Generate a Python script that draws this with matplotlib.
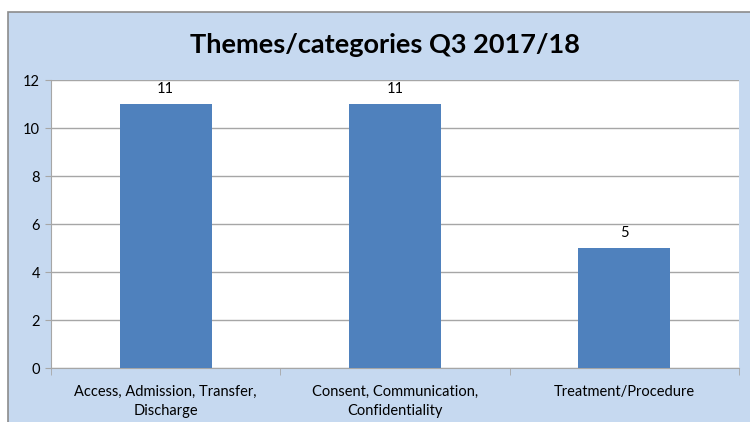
import matplotlib.pyplot as plt
from matplotlib.patches import Rectangle

categories = ['Access, Admission, Transfer,\nDischarge',
              'Consent, Communication,\nConfidentiality',
              'Treatment/Procedure']
values = [11, 11, 5]
y_ticks = [0, 2, 4, 6, 8, 10, 12]

bg = '#C6D9F0'
bar_color = '#4F81BD'
grid_color = '#A6A6A6'

plt.rcParams['font.family'] = ['Lato', 'DejaVu Sans']

fig = plt.figure(figsize=(7.5, 4.22), dpi=100)
fig.patch.set_facecolor('white')
# chart area background with grey border
fig.patches.append(Rectangle((8 / 750, -0.05), 1.0, 1 - 12 / 422 + 0.05,
                             transform=fig.transFigure, facecolor=bg,
                             edgecolor='#8C8C8C', linewidth=1.2, zorder=-10))

ax = fig.add_axes([51 / 750, 1 - 368 / 422, (739 - 51) / 750, (368 - 80) / 422])
ax.set_zorder(1)
ax.set_facecolor('white')

x = list(range(len(categories)))
bars = ax.bar(x, values, width=0.4, color=bar_color, zorder=3)
for xi, v in zip(x, values):
    ax.text(xi, v + 0.35, str(v), ha='center', va='bottom', fontsize=10.5, color='black')

ax.set_xlim(-0.5, len(categories) - 0.5)
ax.set_ylim(0, 12)
ax.set_yticks(y_ticks)
ax.yaxis.grid(True, color=grid_color, linewidth=1, zorder=0)
ax.set_axisbelow(True)

ax.set_xticks(x)
ax.set_xticklabels(categories, fontsize=10.5, linespacing=1.45)
ax.tick_params(axis='x', length=0, pad=12)
ax.set_xticks([i - 0.5 for i in range(len(categories) + 1)], minor=True)
ax.tick_params(axis='x', which='minor', length=5, color=grid_color)
ax.tick_params(axis='y', length=4, color=grid_color, labelsize=10.5, pad=4)

for side in ['top', 'right']:
    ax.spines[side].set_visible(False)
for side in ['left', 'bottom']:
    ax.spines[side].set_color(grid_color)

fig.text(385 / 750, 1 - 45 / 422, 'Themes/categories Q3 2017/18', ha='center', va='center',
         fontsize=19.5, fontweight='bold')

fig.savefig('out.png', dpi=100, facecolor=fig.get_facecolor())
